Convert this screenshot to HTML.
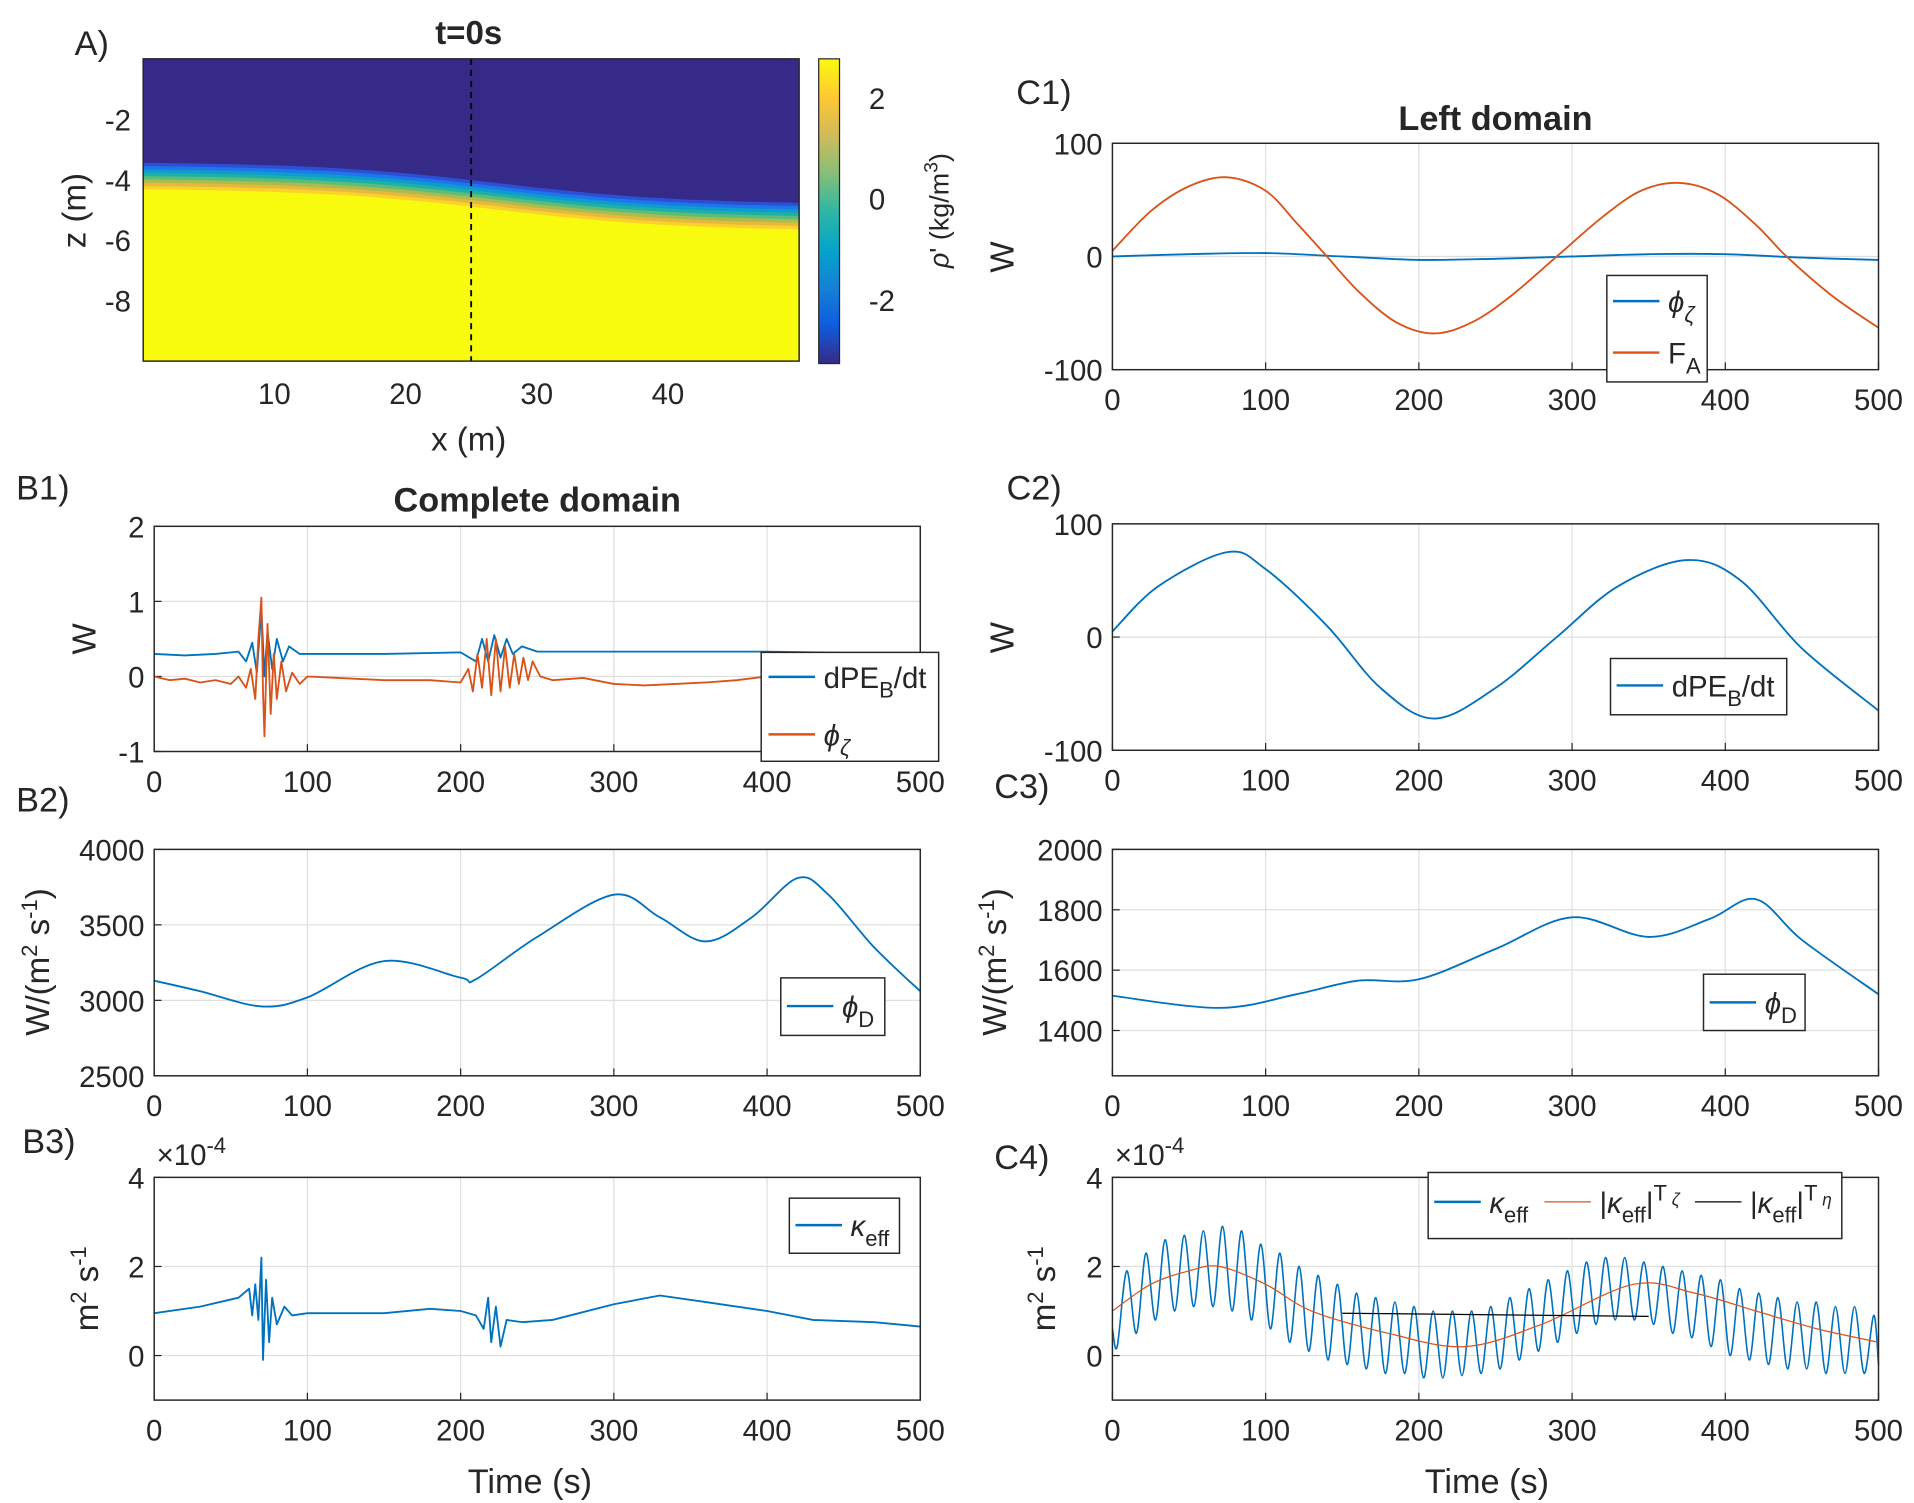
<!DOCTYPE html>
<html><head><meta charset="utf-8"><style>
html,body{margin:0;padding:0;background:#fff;}
svg{display:block;font-family:"Liberation Sans",Arial,sans-serif;}
</style></head><body>
<svg id="fig" width="1914" height="1503" viewBox="0 0 1564 1228" xmlns="http://www.w3.org/2000/svg"></svg>
<script>
// ---------- DATA ----------
const b1DpeT=[0,20,40,55,60,64,67,70,72,74,77,80,84,88,95,150,200,210,214,218,222,226,230,234,240,250,300,400,500];
const b1DpeV=[0.3,0.28,0.3,0.33,0.2,0.45,0.05,0.9,0.0,0.6,0.1,0.5,0.2,0.4,0.3,0.3,0.32,0.2,0.5,0.2,0.55,0.25,0.5,0.3,0.4,0.33,0.33,0.33,0.3];
const b1PhiT=[0,10,20,30,40,50,55,60,63,66,68,70,71,72,74,76,78,80,83,86,90,95,100,120,150,180,200,205,208,211,214,217,220,223,226,229,232,235,238,241,244,247,252,260,280,300,320,340,360,380,400,420,440,460,500];
const b1PhiV=[0,-0.05,-0.03,-0.08,-0.05,-0.1,0,-0.15,0.1,-0.3,0.5,1.05,-0.2,-0.8,0.7,-0.5,0.3,-0.3,0.2,-0.2,0.05,-0.1,0,-0.02,-0.05,-0.05,-0.08,0.1,-0.2,0.3,-0.15,0.5,-0.25,0.5,-0.2,0.4,-0.15,0.3,-0.1,0.25,-0.05,0.2,0,-0.05,-0.02,-0.1,-0.12,-0.1,-0.08,-0.05,0,-0.05,0,0.02,0];
const b2T=[0,30,70,100,150,200,210,250,300,330,360,390,420,440,470,500];
const b2V=[3130,3060,2960,3020,3260,3150,3140,3420,3700,3550,3390,3550,3810,3700,3350,3060];
const b3T=[0,30,55,62,64,66,68,70,71,73,75,77,80,85,90,100,150,180,200,210,215,218,220,223,226,230,240,260,300,330,360,400,430,470,500];
const b3V=[0.95,1.1,1.3,1.5,0.9,1.6,0.8,2.2,-0.1,1.7,0.3,1.3,0.7,1.1,0.9,0.95,0.95,1.05,1.0,0.9,0.6,1.3,0.3,1.1,0.2,0.8,0.75,0.8,1.15,1.35,1.2,1.0,0.8,0.75,0.65];
const c1T=[0,25,50,75,100,120,140,160,185,210,235,260,290,320,345,370,395,420,440,470,500];
const c1FA=[5,40,62,70,58,30,0,-30,-58,-68,-58,-35,0,35,58,65,55,28,0,-35,-63];
const c1PhiT=[0,50,100,150,200,250,300,350,400,450,500];
const c1PhiV=[0,2,3,0,-3,-2,0,2,2,-1,-3];
const c2T=[0,30,75,100,140,175,210,250,290,330,375,410,450,500];
const c2V=[5,45,75,60,10,-45,-72,-45,0,45,68,50,-10,-65];
const c3T=[0,70,120,160,200,250,300,350,390,420,450,500];
const c3V=[1515,1475,1520,1565,1570,1670,1775,1710,1770,1835,1700,1520];
const c4OrT=[0,25,50,70,100,130,180,230,280,340,380,420,460,500];
const c4OrV=[1.0,1.6,1.9,2.0,1.6,1.0,0.5,0.2,0.7,1.6,1.4,1.0,0.6,0.3];
const c4BlueV=[0.2,1.9,0.5,2.3,0.8,2.6,1.0,2.7,1.1,2.8,1.1,2.9,1.0,2.8,0.8,2.5,0.6,2.3,0.3,2.0,0.1,1.8,-0.1,1.6,-0.2,1.4,-0.3,1.3,-0.4,1.2,-0.4,1.1,-0.5,1.0,-0.5,1.0,-0.45,1.0,-0.4,1.1,-0.3,1.3,-0.1,1.5,0.1,1.7,0.3,1.9,0.5,2.1,0.7,2.2,0.8,2.2,0.8,2.1,0.7,2.0,0.5,1.9,0.4,1.8,0.2,1.7,0.0,1.5,-0.1,1.4,-0.2,1.3,-0.3,1.2,-0.3,1.2,-0.4,1.1,-0.4,1.1,-0.4,0.9];
const c4BlackT=[150,350];
const c4BlackV=[0.95,0.88];
const xTicks=[0,100,200,300,400,500];
// ---------- HELPERS ----------
const svg=document.getElementById('fig');
const NS='http://www.w3.org/2000/svg';
function mk(tag,attrs,parent){const e=document.createElementNS(NS,tag);for(const k in attrs)e.setAttribute(k,attrs[k]);(parent||svg).appendChild(e);return e;}
function txt(x,y,s,size,anchor,parent,weight){const t=mk('text',{x:x,y:y,'font-size':size,'text-anchor':anchor||'middle',fill:'#262626','font-weight':weight||'normal'},parent);t.innerHTML=s;return t;}
const BLUE='#0072BD',ORANGE='#D95319';
function axes(name,x0,x1,y0,y1,ymin,ymax,yticks){
  const g=mk('g',{});
  
  
  const sx=v=>x0+(v-0)/(500-0)*(x1-x0);
  const sy=v=>y1-(v-ymin)/(ymax-ymin)*(y1-y0);
  mk('rect',{x:x0,y:y0,width:x1-x0,height:y1-y0,fill:'#fff'},g);
  xTicks.forEach(v=>{mk('line',{x1:sx(v),x2:sx(v),y1:y0,y2:y1,stroke:'#dfdfdf','stroke-width':1},g);});
  yticks.forEach(v=>{mk('line',{x1:x0,x2:x1,y1:sy(v),y2:sy(v),stroke:'#dfdfdf','stroke-width':1},g);});
  const tl=mk('g',{},g);
  xTicks.forEach(v=>{txt(sx(v),y1+33,String(v),24,'middle',tl);mk('line',{x1:sx(v),x2:sx(v),y1:y1,y2:y1-6,stroke:'#262626'},g);});
  const yl=mk('g',{},g);
  yticks.forEach(v=>{txt(x0-8,sy(v)+9,String(v),24,'end',yl);mk('line',{x1:x0,x2:x0+6,y1:sy(v),y2:sy(v),stroke:'#262626'},g);});
  return {g,sx,sy,x0,x1,y0,y1};
}
function box(ax){mk('rect',{x:ax.x0,y:ax.y0,width:ax.x1-ax.x0,height:ax.y1-ax.y0,fill:'none',stroke:'#262626','stroke-width':1.2},ax.g);}
function line(ax,T,V,color,name,w,smooth){
  const P=T.map((t,i)=>[ax.sx(t),ax.sy(V[i])]);
  let d='M'+P[0][0].toFixed(1)+','+P[0][1].toFixed(1);
  for(let i=1;i<P.length;i++){
    if(smooth){
      const p0=P[Math.max(0,i-2)],p1=P[i-1],p2=P[i],p3=P[Math.min(P.length-1,i+1)];
      const c1=[p1[0]+(p2[0]-p0[0])/6,p1[1]+(p2[1]-p0[1])/6],c2=[p2[0]-(p3[0]-p1[0])/6,p2[1]-(p3[1]-p1[1])/6];
      d+='C'+c1[0].toFixed(1)+','+c1[1].toFixed(1)+' '+c2[0].toFixed(1)+','+c2[1].toFixed(1)+' '+p2[0].toFixed(1)+','+p2[1].toFixed(1);
    } else d+='L'+P[i][0].toFixed(1)+','+P[i][1].toFixed(1);
  }
  const p=mk('path',{d:d,fill:'none',stroke:color,'stroke-width':w||1.5,'stroke-linejoin':'round'},ax.g);
  
  
  return p;
}
function legend(name,x,y,w,h,entries){
  const g=mk('g',{});
  
  
  mk('rect',{x:x,y:y,width:w,height:h,fill:'#fff',stroke:'#262626','stroke-width':1.2},g);
  entries.forEach(e=>{
    mk('line',{x1:e.x,x2:e.x+38,y1:e.y,y2:e.y,stroke:e.c,'stroke-width':e.w||2},g);
    txt(e.x+45,e.y+9,e.s,24,'start',g);
  });
}
// ---------- PANEL A ----------
(function(){
  const g=mk('g',{});
  const X0=117,X1=653,Y0=48,Y1=295;
  const sx=v=>X0+v/50*(X1-X0), sz=v=>Y0-v/10*(Y1-Y0);
  mk('rect',{x:X0,y:Y0,width:X1-X0,height:Y1-Y0,fill:'#F9FB0E'},g);
  const cols=['#352A87','#2C4FD8','#1D77E8','#0E9BD0','#1EB0A5','#5DBC78','#A8BD4E','#E8B83D','#FBD22C','#F9FB0E'];
  const xs=[];for(let i=0;i<=50;i++)xs.push(i);
  const zc=x=>-3.85-0.7*(1+Math.tanh((x-27)/14));
  for(let k=cols.length-2;k>=0;k--){
    const off=(k-4)*0.11;
    let d='M'+X0+','+Y0;
    xs.forEach(x=>{d+='L'+sx(x).toFixed(1)+','+sz(zc(x)-off).toFixed(1);});
    d+='L'+X1+','+Y0+'Z';
    mk('path',{d:d,fill:cols[k]},g);
  }
  mk('line',{x1:sx(25),x2:sx(25),y1:Y0,y2:Y1,stroke:'#000','stroke-width':1.5,'stroke-dasharray':'5,4'},g);
  mk('rect',{x:X0,y:Y0,width:X1-X0,height:Y1-Y0,fill:'none',stroke:'#262626','stroke-width':1.2},g);
  [10,20,30,40].forEach(v=>txt(sx(v),330,String(v),24,'middle',g));
  [-2,-4,-6,-8].forEach(v=>txt(X0-10,sz(v)+9,String(v),24,'end',g));
  txt(383,368,'x (m)',27,'middle',g);
  const zl=txt(0,0,'z (m)',27,'middle',g);zl.setAttribute('transform','translate(70,172) rotate(-90)');
  txt(383,36,'t=0s',27,'middle',g,'bold');
  const cb=mk('g',{});
  const defs=mk('defs',{},cb);
  const lg=mk('linearGradient',{id:'par',x1:0,y1:1,x2:0,y2:0},defs);
  ['#352A87','#0F5CDD','#1481D6','#06A4CA','#2EB7A4','#87BF77','#D1BB59','#FEC832','#F9FB0E'].forEach((c,i,a)=>mk('stop',{offset:i/(a.length-1),'stop-color':c},lg));
  mk('rect',{x:669,y:48,width:17,height:249,fill:'url(#par)',stroke:'#262626','stroke-width':1},cb);
  [[2,80],[0,162],[-2,245]].forEach(p=>{txt(710,p[1]+9,String(p[0]),24,'start',cb);});
  const cl=txt(0,0,"<tspan font-style='italic'>ρ</tspan>' (kg/m<tspan baseline-shift='super' font-size='16'>3</tspan>)",22,'middle',cb);cl.setAttribute('transform','translate(775,172) rotate(-90)');
})();
[['A)',75,45],['B1)',35,408],['B2)',35,663],['B3)',40,942],['C1)',853,85],['C2)',845,408],['C3)',835,652],['C4)',835,955]].forEach(p=>{const t=txt(p[1],p[2],p[0],28,'middle');});
function ylab(s,x,y){const t=txt(0,0,s,27,'middle');t.setAttribute('transform','translate('+x+','+y+') rotate(-90)');}
function xlab(s,x,y){const t=txt(x,y,s,28,'middle');}
// ---------- B1 ----------
let ax=axes('complete-domain-power-chart',126,752,430,614,-1,2,[-1,0,1,2]);
line(ax,b1DpeT,b1DpeV,BLUE,'dpe-dt-line');
line(ax,b1PhiT,b1PhiV,ORANGE,'phi-zeta-line');box(ax);
txt(439,418,'Complete domain',28,'middle',null,'bold');
ylab('W',78,522);
legend('b1-legend',622,533,145,89,[{x:628,y:553,c:BLUE,s:'dPE<tspan font-size="18" dy="8">B</tspan><tspan dy="-8">/dt</tspan>'},{x:628,y:600,c:ORANGE,s:'<tspan font-style="italic">ϕ</tspan><tspan font-size="18" dy="8" font-style="italic">ζ</tspan>'}]);
// ---------- B2 ----------
ax=axes('complete-domain-dissipation-chart',126,752,694,879,2500,4000,[2500,3000,3500,4000]);
line(ax,b2T,b2V,BLUE,'phi-d-line',1.5,true);box(ax);
ylab('W/(m<tspan baseline-shift="super" font-size="18">2</tspan> s<tspan baseline-shift="super" font-size="18">-1</tspan>)',40,786);
legend('b2-legend',638,799,85,47,[{x:643,y:822,c:BLUE,s:'<tspan font-style="italic">ϕ</tspan><tspan font-size="18" dy="8">D</tspan>'}]);
// ---------- B3 ----------
ax=axes('complete-domain-kappa-chart',126,752,962,1144,-1,4,[0,2,4]);
line(ax,b3T,b3V,BLUE,'kappa-eff-line');box(ax);
txt(128,952,'×10<tspan baseline-shift="super" font-size="18">-4</tspan>',24,'start');
ylab('m<tspan baseline-shift="super" font-size="18">2</tspan> s<tspan baseline-shift="super" font-size="18">-1</tspan>',80,1053);
xlab('Time (s)',433,1220);
legend('b3-legend',645,979,90,45,[{x:650,y:1001,c:BLUE,s:'<tspan font-style="italic">κ</tspan><tspan font-size="18" dy="8">eff</tspan>'}]);
// ---------- C1 ----------
ax=axes('left-domain-power-chart',909,1535,117,302,-100,100,[-100,0,100]);
line(ax,c1PhiT,c1PhiV,BLUE,'c1-phi-zeta-line',1.5,true);
line(ax,c1T,c1FA,ORANGE,'fa-line',1.5,true);box(ax);
txt(1222,106,'Left domain',28,'middle',null,'bold');
ylab('W',828,210);
legend('c1-legend',1313,225,82,87,[{x:1318,y:246,c:BLUE,s:'<tspan font-style="italic">ϕ</tspan><tspan font-size="18" dy="8" font-style="italic">ζ</tspan>'},{x:1318,y:288,c:ORANGE,s:'F<tspan font-size="18" dy="8">A</tspan>'}]);
// ---------- C2 ----------
ax=axes('left-domain-dpe-chart',909,1535,428,613,-100,100,[-100,0,100]);
line(ax,c2T,c2V,BLUE,'c2-dpe-dt-line',1.5,true);box(ax);
ylab('W',828,521);
legend('c2-legend',1316,538,144,46,[{x:1321,y:560,c:BLUE,s:'dPE<tspan font-size="18" dy="8">B</tspan><tspan dy="-8">/dt</tspan>'}]);
// ---------- C3 ----------
ax=axes('left-domain-dissipation-chart',909,1535,694,879,1250,2000,[1400,1600,1800,2000]);
line(ax,c3T,c3V,BLUE,'c3-phi-d-line',1.5,true);box(ax);
ylab('W/(m<tspan baseline-shift="super" font-size="18">2</tspan> s<tspan baseline-shift="super" font-size="18">-1</tspan>)',822,786);
legend('c3-legend',1392,796,83,46,[{x:1397,y:819,c:BLUE,s:'<tspan font-style="italic">ϕ</tspan><tspan font-size="18" dy="8">D</tspan>'}]);
// ---------- C4 ----------
ax=axes('left-domain-kappa-chart',909,1535,962,1144,-1,4,[0,2,4]);
const c4T=c4BlueV.map((v,i)=>3.125+i*6.25);
line(ax,[0].concat(c4T,[500]),[0.6].concat(c4BlueV,[-0.2]),BLUE,'c4-kappa-eff-line',1.3,true);
line(ax,c4OrT,c4OrV,ORANGE,'kappa-zeta-line',1,true);
line(ax,c4BlackT,c4BlackV,'#000','kappa-eta-line',1);box(ax);
txt(911,952,'×10<tspan baseline-shift="super" font-size="18">-4</tspan>',24,'start');
ylab('m<tspan baseline-shift="super" font-size="18">2</tspan> s<tspan baseline-shift="super" font-size="18">-1</tspan>',862,1053);
xlab('Time (s)',1215,1220);
legend('c4-legend',1167,958,338,54,[
 {x:1172,y:982,c:BLUE,s:'<tspan font-style="italic">κ</tspan><tspan font-size="18" dy="8">eff</tspan>'},
 {x:1262,y:982,c:ORANGE,w:1,s:'|<tspan font-style="italic">κ</tspan><tspan font-size="18" dy="8">eff</tspan><tspan dy="-8">|</tspan><tspan font-size="18" dy="-10">T</tspan><tspan font-size="14" dy="4" font-style="italic"> ζ</tspan>'},
 {x:1385,y:982,c:'#000',w:1,s:'|<tspan font-style="italic">κ</tspan><tspan font-size="18" dy="8">eff</tspan><tspan dy="-8">|</tspan><tspan font-size="18" dy="-10">T</tspan><tspan font-size="14" dy="4" font-style="italic"> η</tspan>'}
]);
</script>
</body></html>
